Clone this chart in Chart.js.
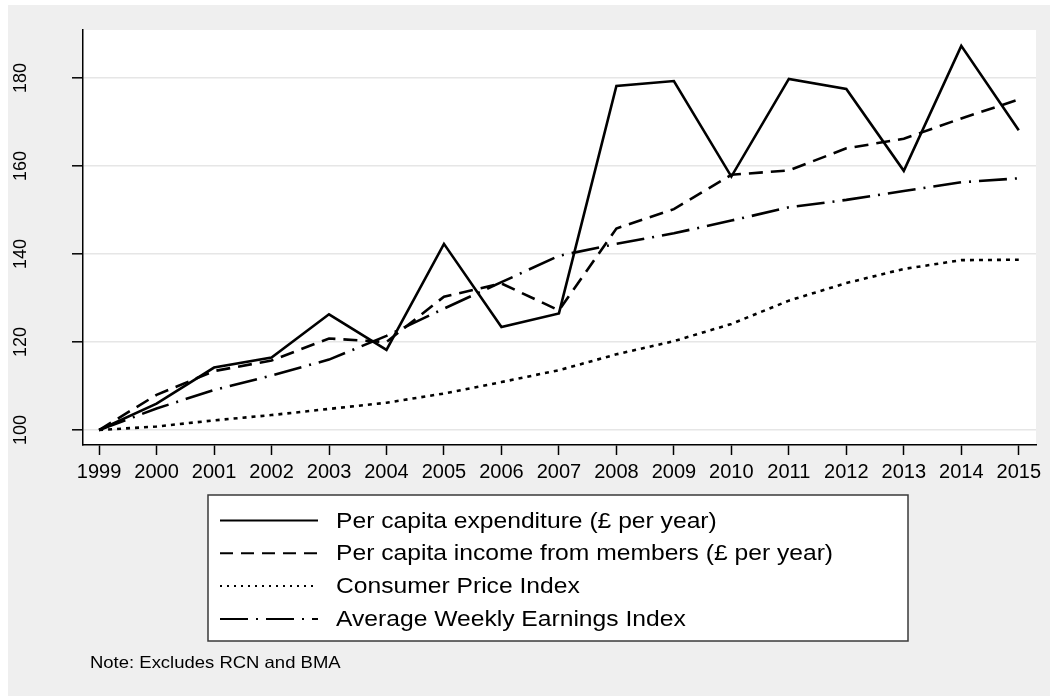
<!DOCTYPE html>
<html><head><meta charset="utf-8">
<script src="https://cdn.jsdelivr.net/npm/chart.js@4/dist/chart.umd.min.js"></script>
<style>html,body{margin:0;padding:0;background:#fff;overflow:hidden}#c{display:block}</style>
</head><body>
<canvas id="c" width="1050" height="696"></canvas>
<script>
const years = [1999,2000,2001,2002,2003,2004,2005,2006,2007,2008,2009,2010,2011,2012,2013,2014,2015];
const expenditure = [100,106.0,114.2,116.5,126.3,118.2,142.3,123.4,126.5,178.2,179.3,157.6,179.8,177.5,158.9,187.3,168.1];
const income = [100,108.0,113.4,115.8,120.8,120.0,130.3,133.3,127.2,145.8,150.2,158.0,159.0,164.0,166.2,170.8,175.1];
const cpi = [100,100.8,102.2,103.4,104.8,106.2,108.3,110.9,113.6,117.2,120.2,124.1,129.4,133.4,136.6,138.6,138.7];
const awe = [100,104.9,109.1,112.4,116.0,121.4,127.6,133.6,139.6,142.3,144.7,147.6,150.6,152.3,154.3,156.3,157.2];
const yTicks = [100,120,140,160,180];
const seriesLabels = [
  'Per capita expenditure (\u00a3 per year)',
  'Per capita income from members (\u00a3 per year)',
  'Consumer Price Index',
  'Average Weekly Earnings Index'
];
const noteText = 'Note: Excludes RCN and BMA';

const FONT = '"Liberation Sans", Arial, Helvetica, sans-serif';
const toXY = arr => years.map((x, i) => ({x: x, y: arr[i]}));

const bgPlugin = {
  id: 'bg',
  beforeDraw(chart) {
    const ctx = chart.ctx, a = chart.chartArea;
    ctx.save();
    ctx.fillStyle = '#ffffff';
    ctx.fillRect(0, 0, chart.width, chart.height);
    ctx.fillStyle = '#efefef';
    ctx.fillRect(8, 5, chart.width - 8, chart.height - 5);
    ctx.fillStyle = '#ffffff';
    ctx.fillRect(a.left, a.top, a.right - a.left, a.bottom - a.top);
    ctx.restore();
  }
};

function stretchedText(ctx, text, x, y, size, sx) {
  ctx.save();
  ctx.translate(x, y);
  ctx.scale(sx, 1);
  ctx.font = size + 'px ' + FONT;
  ctx.fillStyle = '#000';
  ctx.textAlign = 'left';
  ctx.textBaseline = 'middle';
  ctx.fillText(text, 0, 0);
  ctx.restore();
}

const legendPlugin = {
  id: 'boxLegend',
  afterDraw(chart) {
    const ctx = chart.ctx;
    const bx = 208, by = 495, bw = 700, bh = 146;
    ctx.save();
    ctx.fillStyle = '#ffffff';
    ctx.fillRect(bx, by, bw, bh);
    ctx.strokeStyle = '#3a3a3a';
    ctx.lineWidth = 1.5;
    ctx.strokeRect(bx, by, bw, bh);
    chart.data.datasets.forEach((ds, i) => {
      const y = 520.5 + i * 32.8;
      ctx.save();
      ctx.strokeStyle = '#000';
      ctx.lineWidth = 2;
      ctx.setLineDash(ds.legendDash || ds.borderDash || []);
      ctx.beginPath();
      ctx.moveTo(220, y);
      ctx.lineTo(318, y);
      ctx.stroke();
      ctx.restore();
      stretchedText(ctx, ds.label, 336, y + 1, 22, 1.12);
    });
    stretchedText(ctx, noteText, 90, 663, 16.5, 1.12);
    ctx.restore();
  }
};

const common = {borderColor: '#000', borderWidth: 2.6, pointRadius: 0, tension: 0, fill: false, borderCapStyle: 'butt', borderJoinStyle: 'miter'};

new Chart(document.getElementById('c'), {
  type: 'line',
  data: {
    datasets: [
      Object.assign({label: seriesLabels[0], data: toXY(expenditure), borderDash: []}, common),
      Object.assign({label: seriesLabels[1], data: toXY(income), borderDash: [14, 8], legendDash: [13, 8]}, common),
      Object.assign({label: seriesLabels[2], data: toXY(cpi), borderDash: [4, 5], legendDash: [2, 5]}, common),
      Object.assign({label: seriesLabels[3], data: toXY(awe), borderDash: [28, 8, 2, 8], legendDash: [28, 8, 2, 8]}, common)
    ]
  },
  options: {
    responsive: false,
    animation: false,
    devicePixelRatio: 1,
    events: [],
    layout: {padding: {left: 0, top: 30, right: 14, bottom: 0}},
    plugins: {legend: {display: false}, tooltip: {enabled: false}, title: {display: false}},
    scales: {
      x: {
        type: 'linear',
        min: 1998.72,
        max: 2015.3,
        afterBuildTicks: s => { s.ticks = years.map(v => ({value: v})); },
        afterFit: s => { s.height = 251; s.paddingLeft = 0; s.paddingRight = 0; },
        ticks: {
          callback: v => String(v),
          font: {family: FONT, size: 20},
          color: '#000',
          padding: 5,
          maxRotation: 0,
          minRotation: 0,
          autoSkip: false
        },
        grid: {drawOnChartArea: false, drawTicks: true, tickLength: 10, tickColor: '#000', tickWidth: 1.5, color: '#000'},
        border: {display: true, color: '#000', width: 1.5}
      },
      y: {
        type: 'linear',
        min: 96.6,
        max: 190.9,
        afterBuildTicks: s => { s.ticks = yTicks.map(v => ({value: v})); },
        afterFit: s => { s.width = 83; s.paddingTop = 0; s.paddingBottom = 0; },
        ticks: {
          callback: v => String(v),
          font: {family: FONT, size: 18},
          color: '#000',
          minRotation: 90,
          maxRotation: 90,
          crossAlign: 'center',
          padding: 36
        },
        grid: {drawOnChartArea: true, color: '#e6e6e6', lineWidth: 1.6, drawTicks: true, tickLength: 11, tickColor: '#000', tickWidth: 1.5},
        border: {display: true, color: '#000', width: 1.5}
      }
    }
  },
  plugins: [bgPlugin, legendPlugin]
});
</script>
</body></html>
